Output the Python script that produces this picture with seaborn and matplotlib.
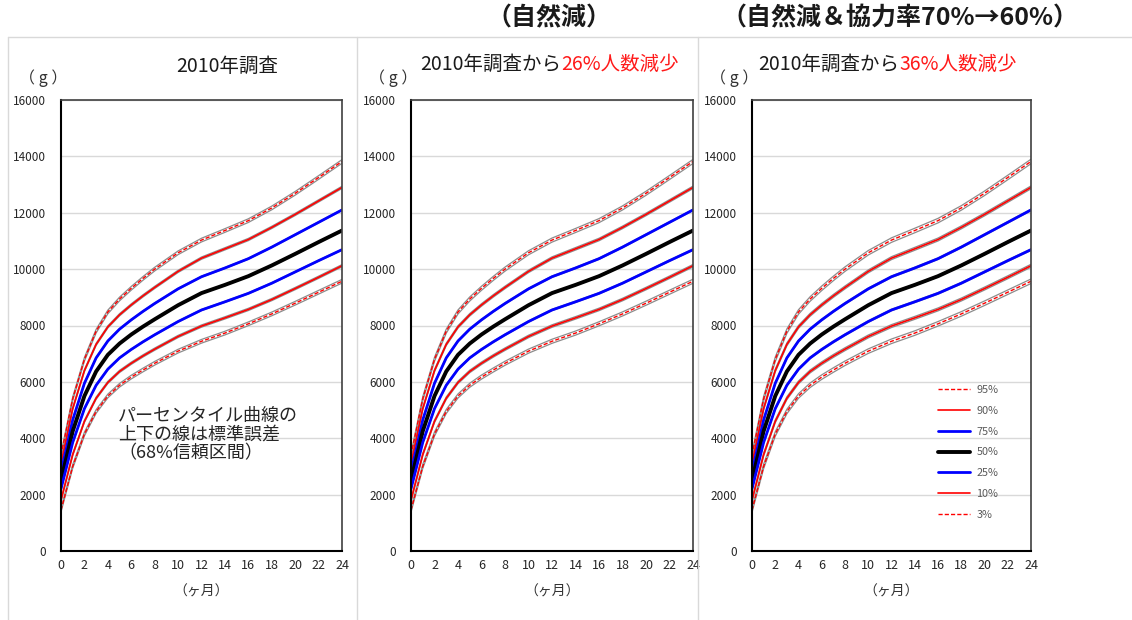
import numpy as np
import pandas as pd
import matplotlib
matplotlib.use("Agg")
import matplotlib.pyplot as plt
from matplotlib.lines import Line2D
import seaborn as sns

# months (x) and percentile weights (g)
months = [0, 1, 2, 3, 4, 5, 6, 7, 8, 10, 12, 14, 16, 18, 20, 22, 24]
p95 = [3400, 5400, 6800, 7800, 8480, 8940, 9320, 9670, 10000, 10580, 11030, 11370, 11720, 12170, 12690, 13250, 13820]
p90 = [3100, 5050, 6400, 7330, 7950, 8380, 8730, 9050, 9350, 9920, 10390, 10720, 11050, 11480, 11940, 12420, 12900]
p75 = [2800, 4650, 5950, 6850, 7450, 7870, 8200, 8500, 8780, 9300, 9730, 10040, 10370, 10780, 11220, 11660, 12100]
p50 = [2500, 4250, 5500, 6370, 6960, 7360, 7680, 7960, 8220, 8720, 9150, 9440, 9750, 10130, 10540, 10960, 11370]
p25 = [2200, 3850, 5050, 5880, 6450, 6850, 7150, 7420, 7670, 8140, 8550, 8840, 9140, 9500, 9900, 10300, 10690]
p10 = [1800, 3420, 4600, 5420, 5980, 6370, 6660, 6920, 7160, 7610, 7980, 8270, 8570, 8920, 9310, 9710, 10120]
p03 = [1450, 3000, 4150, 4950, 5500, 5880, 6170, 6420, 6660, 7090, 7440, 7730, 8060, 8410, 8790, 9180, 9570]

pct_labels = ["95%", "90%", "75%", "50%", "25%", "10%", "3%"]
curves = [p95, p90, p75, p50, p25, p10, p03]

# standard error (g) of each percentile curve, per panel
se_2010 = [65, 40, 20, 22, 20, 40, 65]
se_26 = [72, 45, 24, 25, 24, 45, 72]
se_36 = [80, 52, 28, 28, 28, 52, 80]

panel_titles = [("2010年調査", ""), ("2010年調査から", "26%人数減少"), ("2010年調査から", "36%人数減少")]
headers = ["（自然減）", "（自然減＆協力率70%→60%）"]

styles = {
    "95%": dict(color="red", lw=1.0, ls=(0, (3, 1.5))),
    "90%": dict(color="red", lw=1.2, ls="-"),
    "75%": dict(color="blue", lw=2.0, ls="-"),
    "50%": dict(color="black", lw=2.8, ls="-"),
    "25%": dict(color="blue", lw=2.0, ls="-"),
    "10%": dict(color="red", lw=1.2, ls="-"),
    "3%": dict(color="red", lw=1.0, ls=(0, (3, 1.5))),
}

sns.set_style("white")
plt.rcParams["font.family"] = ["Noto Sans CJK JP", "DejaVu Sans"]

fig = plt.figure(figsize=(11.32, 6.2), dpi=100)

W, H = 1132, 620
axes_px = [(61, 342), (411, 693), (752, 1031)]
y_top, y_bot = 100, 551
se_sets = [se_2010, se_26, se_36]

# panel frames
frame_col = "#d9d9d9"
fig.add_artist(Line2D([8 / W, 1], [1 - 37 / H] * 2, color=frame_col, lw=1))
for xv in [8, 357, 698]:
    fig.add_artist(Line2D([xv / W] * 2, [0, 1 - 37 / H], color=frame_col, lw=1))

for i, (x0, x1) in enumerate(axes_px):
    ax = fig.add_axes([x0 / W, 1 - y_bot / H, (x1 - x0) / W, (y_bot - y_top) / H])
    ses = se_sets[i]
    for lab, vals, se in zip(pct_labels, curves, ses):
        v = np.array(vals, dtype=float)
        st = styles[lab]
        sns.lineplot(x=months, y=v + se, ax=ax, color="#8c8c8c", lw=0.9)
        sns.lineplot(x=months, y=v - se, ax=ax, color="#8c8c8c", lw=0.9)
        sns.lineplot(x=months, y=v, ax=ax, color=st["color"], lw=st["lw"], linestyle=st["ls"])

    ax.set_xlim(0, 24)
    ax.set_ylim(0, 16000)
    ax.set_xticks(range(0, 25, 2))
    ax.set_xticks(range(0, 25, 1), minor=True)
    ax.set_yticks(range(0, 16001, 2000))
    ax.tick_params(axis="x", which="both", direction="in", length=4, width=1, labelsize=9, pad=6)
    ax.tick_params(axis="y", direction="out", length=4, width=1, labelsize=8.5, pad=7)
    ax.grid(axis="y", color="#d9d9d9", lw=1)
    ax.set_axisbelow(True)
    for s in ["left", "bottom"]:
        ax.spines[s].set_color("black")
        ax.spines[s].set_linewidth(1.5)
    for s in ["top", "right"]:
        ax.spines[s].set_color("#404040")
        ax.spines[s].set_linewidth(1.2)
    ax.set_xlabel("")
    ax.set_ylabel("")

    fig.text((x0 - 18) / W, 1 - 78 / H, "（ g ）", fontsize=11.5, ha="center", va="center", color="#333333")
    fig.text((x0 + x1) / 2 / W, 1 - 592 / H, "（ヶ月）", fontsize=10, ha="center", va="center", color="#333333")

    if i == 2:
        handles = [Line2D([], [], color=styles[l]["color"], lw=styles[l]["lw"], ls=styles[l]["ls"]) for l in pct_labels]
        ax.legend(handles, pct_labels, loc="upper left", bbox_to_anchor=(0.63, 0.39),
                  frameon=False, fontsize=7.8, labelcolor="#595959", handlelength=3.0,
                  labelspacing=1.0, handletextpad=0.6)

# panel titles
fig.text(227 / W, 1 - 66 / H, panel_titles[0][0], fontsize=14, ha="center", va="center", color="#1a1a1a")
for split_x, (blk, red) in zip([561, 899], panel_titles[1:]):
    fig.text(split_x / W, 1 - 64 / H, blk, fontsize=14, ha="right", va="center", color="#1a1a1a")
    fig.text(split_x / W, 1 - 64 / H, red, fontsize=14, ha="left", va="center", color="#ff1a1a")

# headers
fig.text(549 / W, 1 - 18 / H, headers[0], fontsize=18, ha="center", va="center", fontweight="bold", color="#1a1a1a")
fig.text(900 / W, 1 - 18 / H, headers[1], fontsize=18, ha="center", va="center", fontweight="bold", color="#1a1a1a")

# annotation in first panel
fig.text(118 / W, 1 - 435 / H, "パーセンタイル曲線の\n上下の線は標準誤差\n（68%信頼区間）",
         fontsize=13, ha="left", va="center", linespacing=1.05)

fig.savefig("out.png", dpi=100)
